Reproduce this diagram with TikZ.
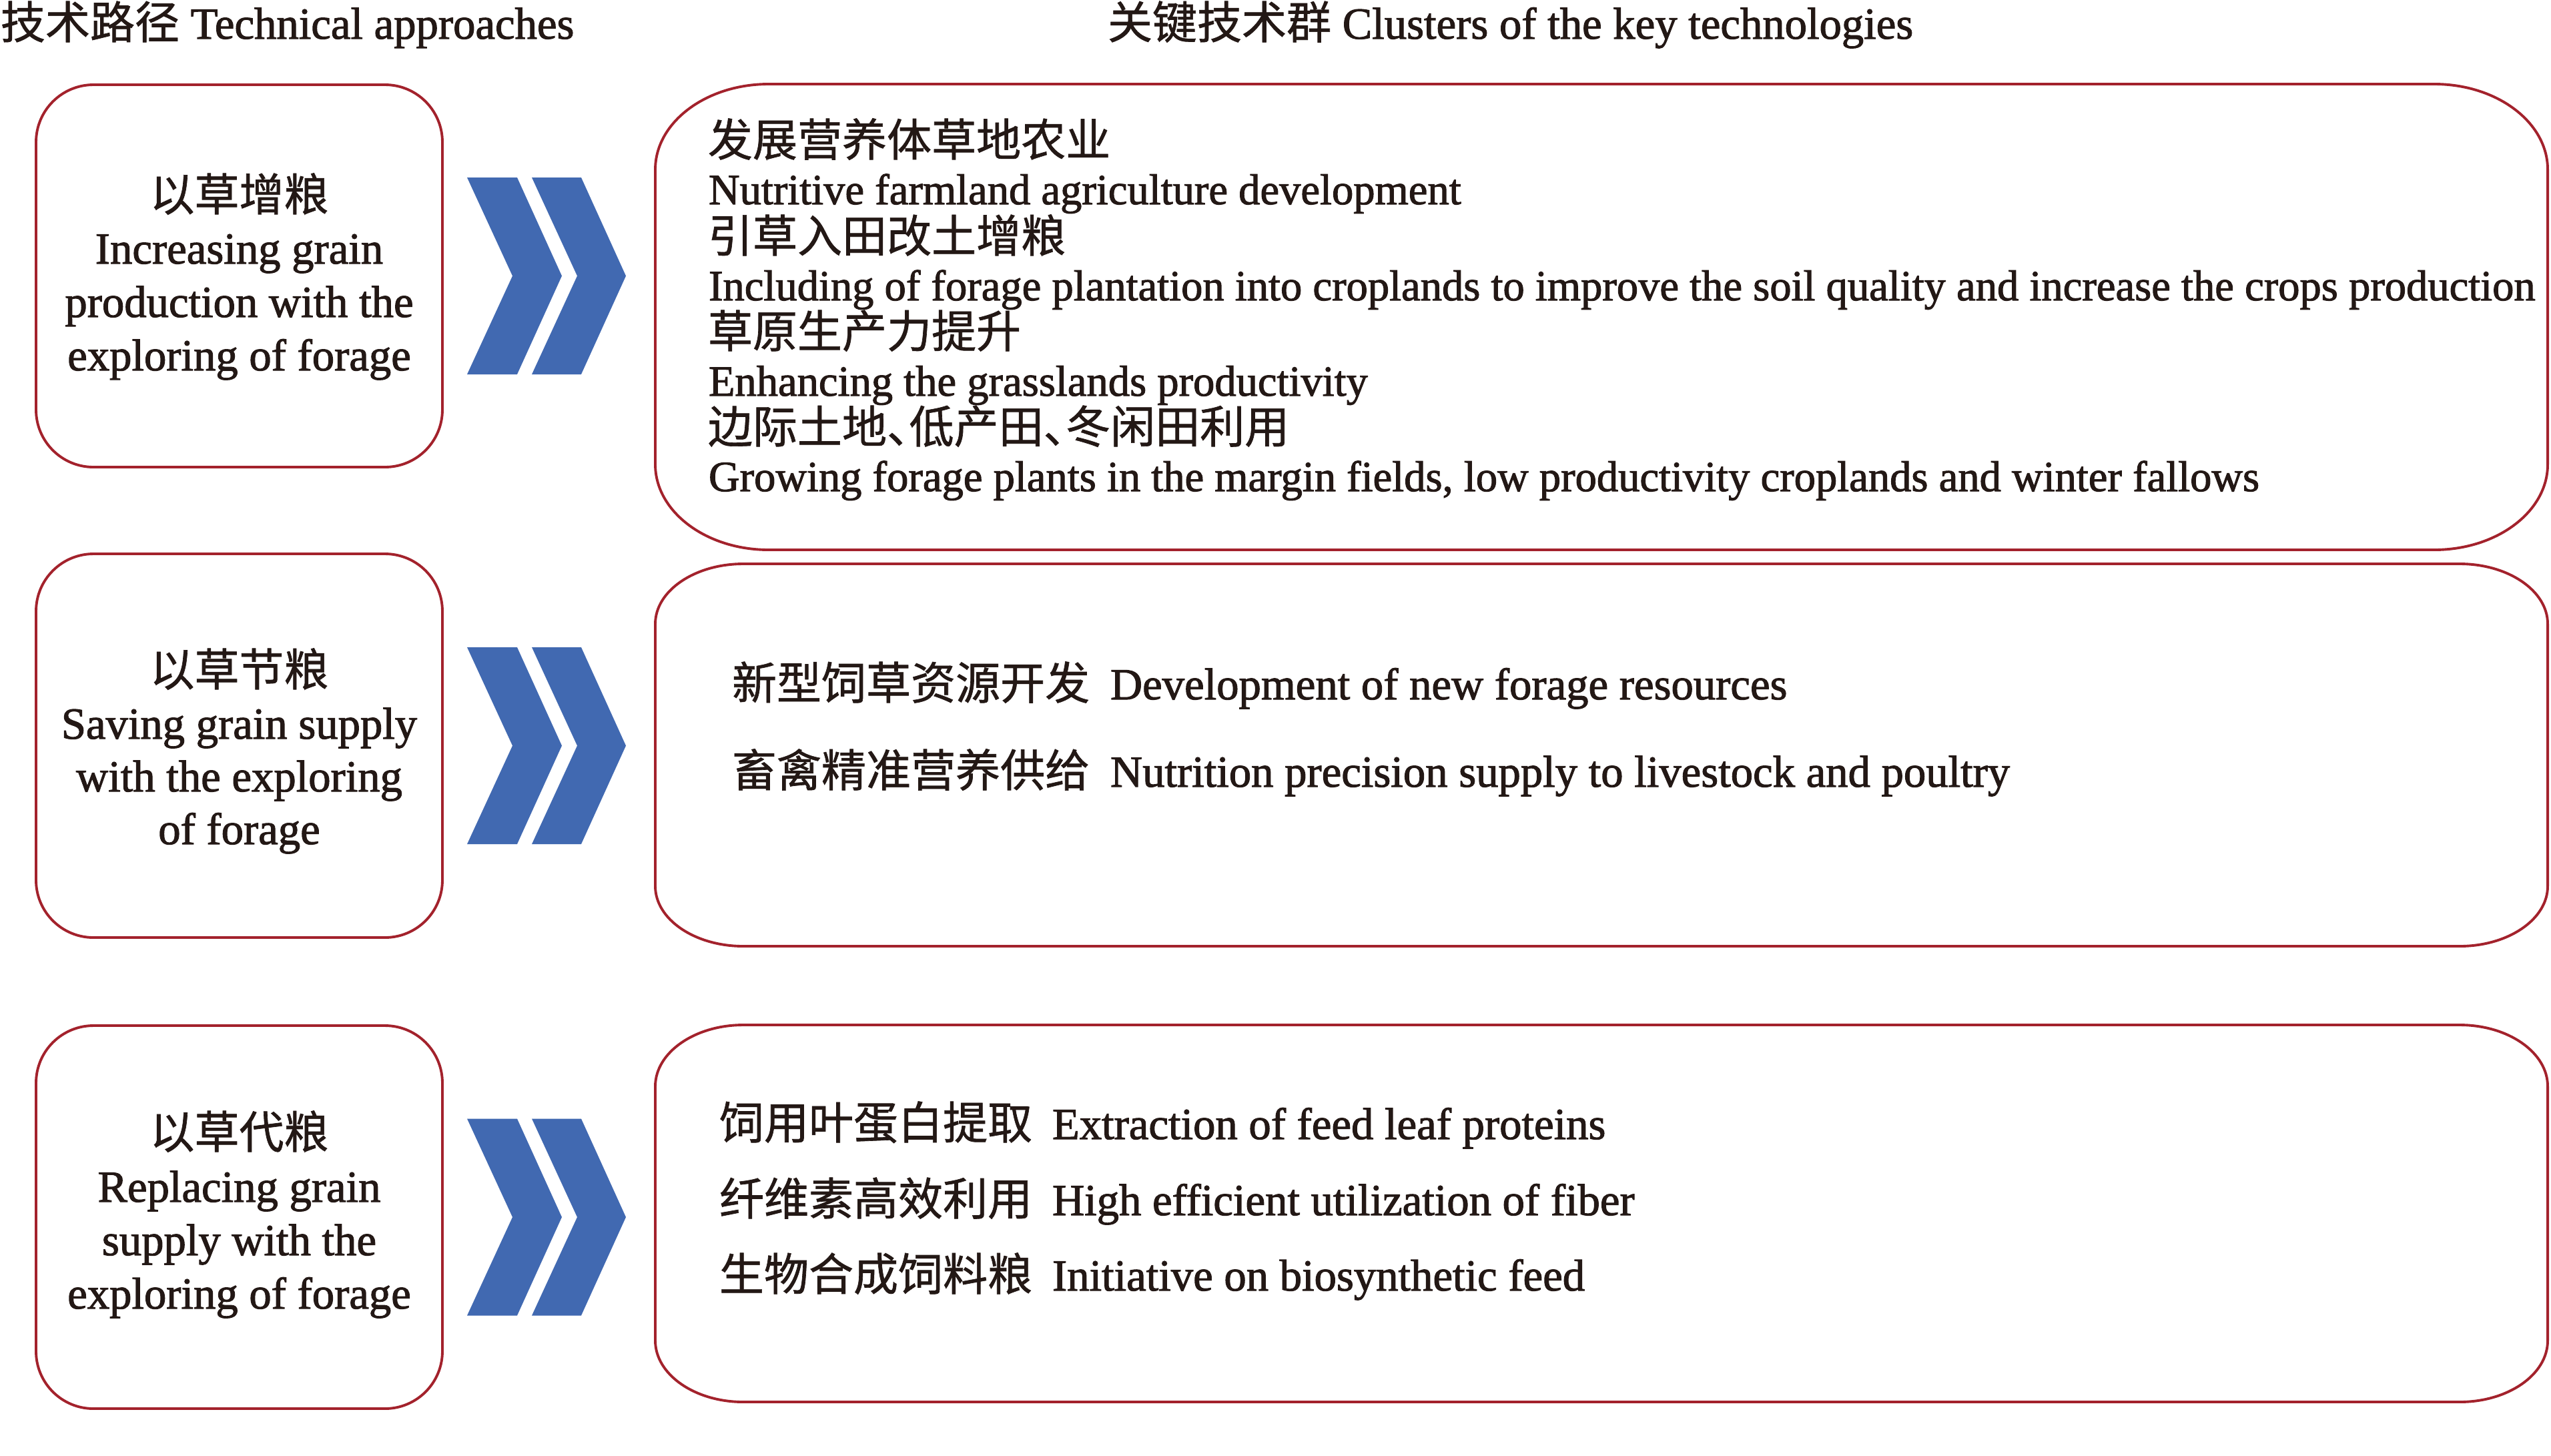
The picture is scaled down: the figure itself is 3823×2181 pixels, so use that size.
\documentclass[tikz,border=0pt]{standalone}
\usepackage{fontspec}
\setmainfont{Liberation Serif}[FakeBold=1.6]
\newfontfamily\cjk{Noto Sans CJK SC}[FakeBold=1.0]
\definecolor{boxred}{HTML}{A3222C}
\definecolor{chevblue}{HTML}{4169B1}
\definecolor{ink}{HTML}{231815}
\tikzset{
  lbox/.style={draw=boxred, line width=1.1pt, rounded corners=24.4pt},
  rboxline/.style={draw=boxred, line width=1.1pt},
  chev/.style={fill=chevblue},
  txt/.style={inner sep=0pt, outer sep=0pt, text=ink, font=\fontsize{18.9pt}{22pt}\selectfont},
  cn/.style={inner sep=0pt, outer sep=0pt, text=ink, font=\fontsize{19pt}{22pt}\selectfont\cjk},
  rtxt/.style={inner sep=0pt, outer sep=0pt, text=ink, font=\fontsize{18.3pt}{22pt}\selectfont, anchor=base west},
  lt/.style={txt, anchor=base west},
  ct/.style={txt, anchor=base},
  lcn/.style={cn, anchor=base west},
  ccn/.style={cn, anchor=base},
}
% x1 y1 x2 y2 rx ry
\newcommand\rbox[6]{%
  \draw[rboxline] ({#1+#5},#2) -- ({#3-#5},#2)
    .. controls ({#3-0.4477*#5},#2) and (#3,{#2+0.4477*#6}) .. (#3,{#2+#6})
    -- (#3,{#4-#6})
    .. controls (#3,{#4-0.4477*#6}) and ({#3-0.4477*#5},#4) .. ({#3-#5},#4)
    -- ({#1+#5},#4)
    .. controls ({#1+0.4477*#5},#4) and (#1,{#4-0.4477*#6}) .. (#1,{#4-#6})
    -- (#1,{#2+#6})
    .. controls (#1,{#2+0.4477*#6}) and ({#1+0.4477*#5},#2) .. ({#1+#5},#2) -- cycle;}
\newcommand\chevpair[1]{%
  \fill[chev] (700,{#1-147.5}) -- (775,{#1-147.5}) -- (842,#1) -- (775,{#1+147.5})
    -- (700,{#1+147.5}) -- (768,#1) -- cycle;
  \fill[chev] (797,{#1-147.5}) -- (871,{#1-147.5}) -- (938,#1) -- (871,{#1+147.5})
    -- (797,{#1+147.5}) -- (865,#1) -- cycle;}
\newcommand\halfdun{、\kern-0.5em}
\begin{document}
\begin{tikzpicture}[x=0.2835pt, y=-0.2835pt]
\useasboundingbox (0,0) rectangle (3823,2181);

% titles
\node[lt] (tl) at (1,58) {{\fontsize{19pt}{22pt}\selectfont\cjk 技术路径} Technical approaches};
\node[lt] (tr) at (1660,58) {{\fontsize{19pt}{22pt}\selectfont\cjk 关键技术群} Clusters of the key technologies};

% left boxes
\draw[lbox] (54,127) rectangle (663,700);
\draw[lbox] (54,830) rectangle (663,1405);
\draw[lbox] (54,1537) rectangle (663,2111);

% chevrons
\chevpair{413.5}
\chevpair{1117.5}
\chevpair{1824}

% right boxes
\rbox{982}{126}{3818}{824}{170}{128}
\rbox{982}{845}{3818}{1418}{132}{90}
\rbox{982}{1536}{3818}{2101}{132}{92}

% left texts
\node[ccn] (a1) at (358.5,316) {以草增粮};
\node[ct] (a2) at (358.5,395) {Increasing grain};
\node[ct] (a3) at (358.5,475) {production with the};
\node[ct] (a4) at (358.5,555) {exploring of forage};

\node[ccn] (b1) at (358.5,1028) {以草节粮};
\node[ct] (b2) at (358.5,1107) {Saving grain supply};
\node[ct] (b3) at (358.5,1186) {with the exploring};
\node[ct] (b4) at (358.5,1265) {of forage};

\node[ccn] (c1) at (358.5,1721) {以草代粮};
\node[ct] (c2) at (358.5,1801) {Replacing grain};
\node[ct] (c3) at (358.5,1881) {supply with the};
\node[ct] (c4) at (358.5,1961) {exploring of forage};

% right box 1
\node[lcn] (p1) at (1061,234) {发展营养体草地农业};
\node[rtxt] (p2) at (1062,306) {Nutritive farmland agriculture development};
\node[lcn] (p3) at (1061,378) {引草入田改土增粮};
\node[rtxt] (p4) at (1062,450) {Including of forage plantation into croplands to improve the soil quality and increase the crops production};
\node[lcn] (p5) at (1061,521) {草原生产力提升};
\node[rtxt] (p6) at (1062,593) {Enhancing the grasslands productivity};
\node[lcn] (p7) at (1061,664) {边际土地\halfdun 低产田\halfdun 冬闲田利用};
\node[rtxt] (p8) at (1062,736) {Growing forage plants in the margin fields, low productivity croplands and winter fallows};

% right box 2
\node[lcn] (q1) at (1097,1048) {新型饲草资源开发};
\node[lt] (q2) at (1664,1048) {Development of new forage resources};
\node[lcn] (q3) at (1097,1179) {畜禽精准营养供给};
\node[lt] (q4) at (1664,1179) {Nutrition precision supply to livestock and poultry};

% right box 3
\node[lcn] (s1) at (1078,1707) {饲用叶蛋白提取};
\node[lt] (s2) at (1577,1707) {Extraction of feed leaf proteins};
\node[lcn] (s3) at (1078,1821) {纤维素高效利用};
\node[lt] (s4) at (1577,1821) {High efficient utilization of fiber};
\node[lcn] (s5) at (1078,1934) {生物合成饲料粮};
\node[lt] (s6) at (1577,1934) {Initiative on biosynthetic feed};
\end{tikzpicture}
\end{document}
